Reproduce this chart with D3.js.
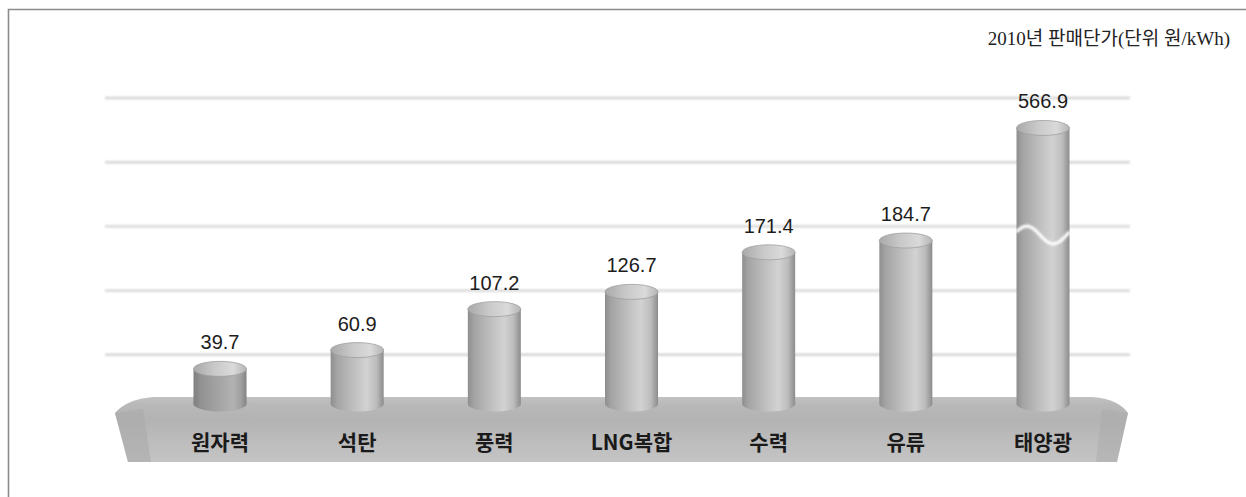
<!DOCTYPE html>
<html>
<head>
<meta charset="utf-8">
<script src="https://cdn.jsdelivr.net/npm/d3@7"></script>
<style>
  html, body { margin: 0; padding: 0; background: #fff; }
  svg { display: block; }
</style>
</head>
<body>
<svg id="chart" width="1246" height="497"></svg>
<script>
// Electricity selling price by generation source, 2010 (KRW per kWh)
const categories = ["원자력", "석탄", "풍력", "LNG복합", "수력", "유류", "태양광"];
const prices = [39.7, 60.9, 107.2, 126.7, 171.4, 184.7, 566.9];
const breakValue = 200;          // the value axis is compressed above this
const gridRows = [1, 2, 3, 4, 5];
const title = "2010년 판매단가(단위 원/kWh)";

const svg = d3.select("#chart");
const W = 1246, H = 497;

const baseY = 404;
const x = d3.scalePoint().domain(categories).range([220, 1043]);
const y = d3.scaleLinear().domain([0, breakValue, 600]).range([baseY, 227, 119]);
const gridY = d3.scaleLinear().domain([0, 5]).range([419, 98]);

const barW = 53, ry = 7.5;

const defs = svg.append("defs");

function hGrad(id, stops) {
  const g = defs.append("linearGradient").attr("id", id)
    .attr("x1", "0%").attr("x2", "100%").attr("y1", "0%").attr("y2", "0%");
  stops.forEach(([o, c]) => g.append("stop").attr("offset", o).attr("stop-color", c));
}
function vGrad(id, stops) {
  const g = defs.append("linearGradient").attr("id", id)
    .attr("x1", "0%").attr("x2", "0%").attr("y1", "0%").attr("y2", "100%");
  stops.forEach(([o, c]) => g.append("stop").attr("offset", o).attr("stop-color", c));
}

hGrad("body", [["0%", "#8e8e8e"], ["12%", "#a4a4a4"], ["45%", "#c0c0c0"], ["68%", "#d2d2d2"], ["86%", "#bdbdbd"], ["100%", "#8c8c8c"]]);
hGrad("bodyDark", [["0%", "#7f7f7f"], ["15%", "#939393"], ["55%", "#a8a8a8"], ["75%", "#b2b2b2"], ["90%", "#9f9f9f"], ["100%", "#828282"]]);
hGrad("cap", [["0%", "#a9a9a9"], ["40%", "#c9c9c9"], ["75%", "#dadada"], ["100%", "#b4b4b4"]]);
vGrad("plinth", [["0%", "#c2c2c2"], ["12%", "#b8b8b8"], ["35%", "#b3b3b3"], ["70%", "#bdbdbd"], ["100%", "#c4c4c4"]]);

const glow = defs.append("filter").attr("id", "glow")
  .attr("filterUnits", "userSpaceOnUse")
  .attr("x", 0).attr("y", 0).attr("width", W).attr("height", H);
glow.append("feGaussianBlur").attr("stdDeviation", 0.8);

// frame
svg.append("path")
  .attr("d", `M8.5,${H} V9.5 H${W}`)
  .attr("fill", "none").attr("stroke", "#8c8c8c").attr("stroke-width", 1.6);

// title
svg.append("text")
  .attr("x", 1230).attr("y", 45)
  .attr("text-anchor", "end")
  .attr("font-family", "'Liberation Serif', 'Noto Sans CJK KR', serif")
  .attr("font-size", 19)
  .attr("fill", "#222")
  .text(title);

// horizontal gridlines on the back wall
const gx0 = x.range()[0] - 115, gx1 = x.range()[1] + 87;
const grid = svg.append("g").attr("filter", "url(#glow)");
grid.selectAll("line").data(gridRows).join("line")
  .attr("x1", gx0).attr("x2", gx1)
  .attr("y1", d => gridY(d)).attr("y2", d => gridY(d))
  .attr("stroke", "#d4d4d4").attr("stroke-width", 2.4);

// plinth the cylinders stand on
const pl = x.range()[0] - 105, pr = x.range()[1] + 85;
const plinthTop = 397, faceTop = 413, plinthBottom = 462;
const plinthPath = d3.path();
plinthPath.moveTo(pl, faceTop);
plinthPath.quadraticCurveTo(pl + 12, plinthTop + 2, pl + 38, plinthTop);
plinthPath.lineTo(pr - 35, plinthTop);
plinthPath.quadraticCurveTo(pr - 10, plinthTop + 2, pr, faceTop);
plinthPath.lineTo(pr - 11, plinthBottom);
plinthPath.lineTo(pl + 13, plinthBottom);
plinthPath.closePath();
svg.append("path").attr("d", plinthPath.toString())
  .attr("fill", "url(#plinth)");

// darker chamfered ends
svg.append("path")
  .attr("d", `M${pl},${faceTop} L${pl + 28},${faceTop - 4} L${pl + 36},${plinthBottom} L${pl + 13},${plinthBottom} Z`)
  .attr("fill", "#aaaaaa").attr("opacity", 0.6);
svg.append("path")
  .attr("d", `M${pr},${faceTop} L${pr - 26},${faceTop - 4} L${pr - 32},${plinthBottom} L${pr - 11},${plinthBottom} Z`)
  .attr("fill", "#aaaaaa").attr("opacity", 0.5);

// cylinders
const bars = svg.append("g").selectAll("g")
  .data(categories.map((c, i) => ({ c, v: prices[i], i })))
  .join("g");

const fillFor = d => d.i === 0 ? "url(#bodyDark)" : "url(#body)";

bars.append("ellipse")
  .attr("cx", d => x(d.c)).attr("cy", baseY)
  .attr("rx", barW / 2).attr("ry", ry)
  .attr("fill", fillFor);

bars.append("rect")
  .attr("x", d => x(d.c) - barW / 2).attr("width", barW)
  .attr("y", d => y(d.v)).attr("height", d => baseY - y(d.v))
  .attr("fill", fillFor);

bars.append("ellipse")
  .attr("cx", d => x(d.c)).attr("cy", d => y(d.v))
  .attr("rx", barW / 2).attr("ry", ry)
  .attr("fill", "url(#cap)")
  .attr("stroke", "#a0a0a0").attr("stroke-width", 0.8);

// break marker (one sine period) on bars that pass the compressed part of the axis
const wave = d3.range(0, 1.0001, 0.05);
bars.filter(d => d.v > breakValue).append("path")
  .attr("d", d => {
    const cx = x(d.c), cy = y(breakValue) + 8, half = barW / 2;
    return d3.line()
      .x(t => cx - half + t * barW)
      .y(t => cy - 9 * Math.sin(t * 2 * Math.PI + 0.35))
      .curve(d3.curveBasis)(wave);
  })
  .attr("fill", "none").attr("stroke", "#ffffff").attr("stroke-width", 3.2)
  .attr("filter", "url(#glow)");

// value labels
bars.append("text")
  .attr("x", d => x(d.c)).attr("y", d => y(d.v) - ry - 12)
  .attr("text-anchor", "middle")
  .attr("font-family", "'Liberation Sans', Arial, sans-serif")
  .attr("font-size", 20)
  .attr("fill", "#1c1c1c")
  .text(d => d.v.toFixed(1));

// category labels on the plinth face
svg.append("g").selectAll("text").data(categories).join("text")
  .attr("x", d => x(d)).attr("y", 450)
  .attr("text-anchor", "middle")
  .attr("font-family", "'Noto Sans CJK KR', 'Noto Sans', sans-serif")
  .attr("font-weight", 700)
  .attr("font-size", 21)
  .attr("fill", "#1a1a1a")
  .text(d => d);
</script>
</body>
</html>
